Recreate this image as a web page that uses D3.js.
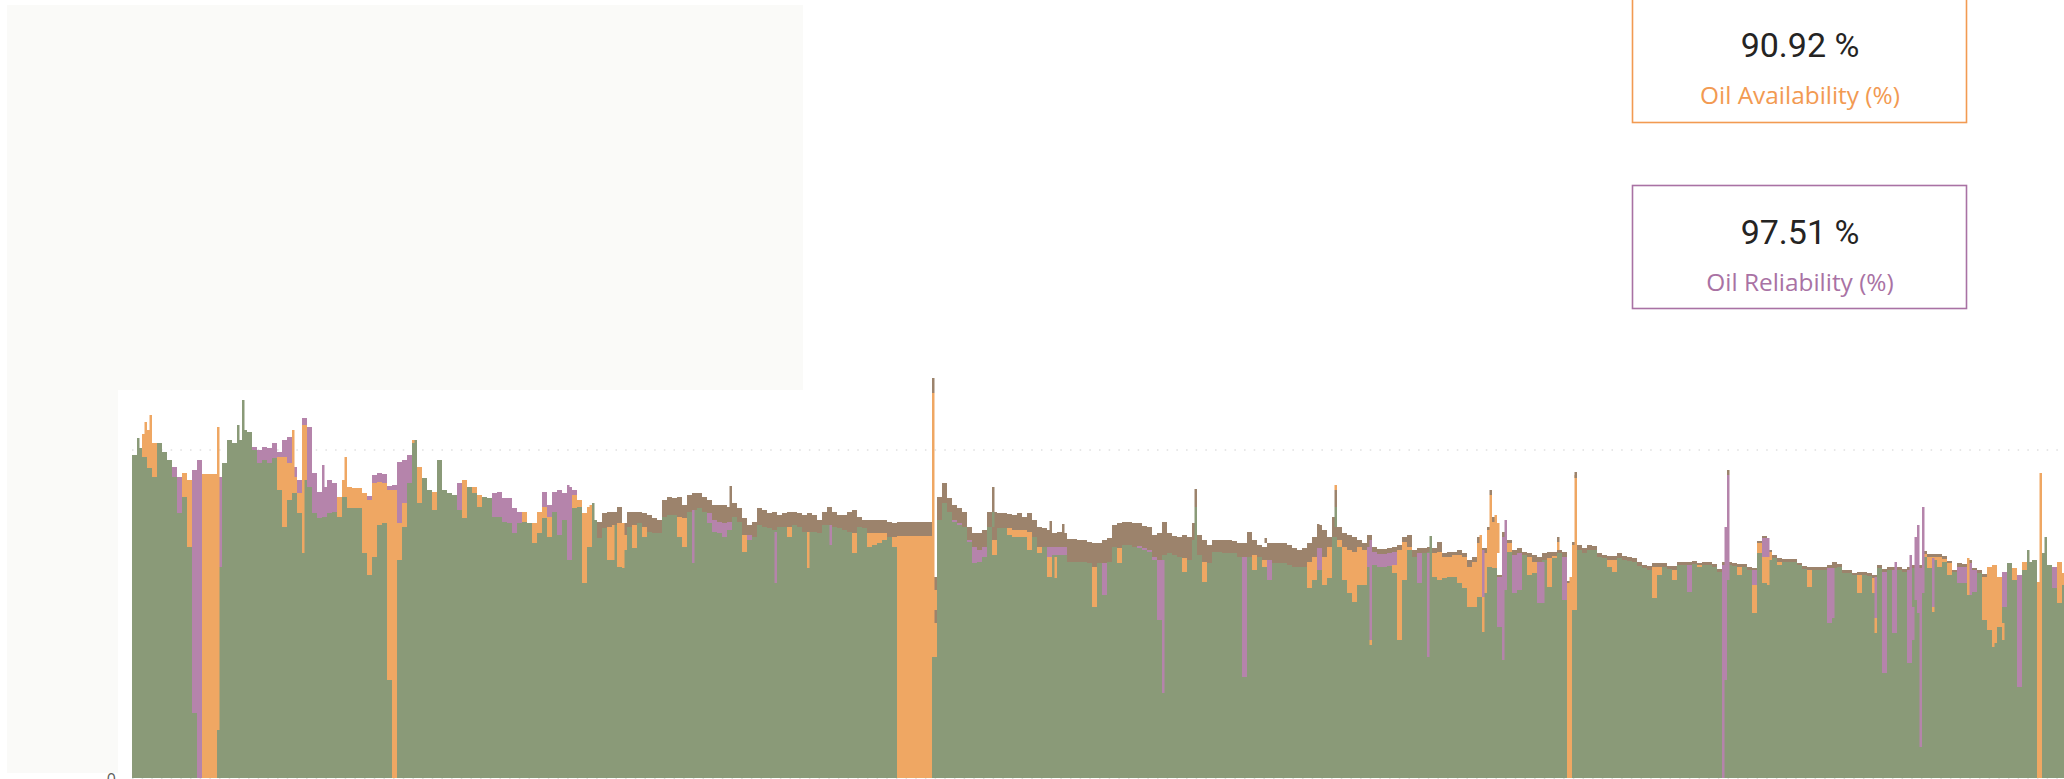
<!DOCTYPE html>
<html><head><meta charset="utf-8">
<script src="https://cdnjs.cloudflare.com/ajax/libs/d3/7.8.5/d3.min.js"></script>
<style>html,body{margin:0;padding:0;background:#fff;overflow:hidden}svg{display:block}</style>
</head><body><svg id="c" width="2064" height="779"></svg>
<script>
const greenVals=[323,330,321,310,301,335,326,318,301,265,
281,231,65,0,0,0,0,211,315,338,
335,338,348,346,328,315,318,315,320,288,
251,278,285,265,298,291,265,260,261,265,
266,261,281,270,270,270,225,203,221,253,
255,98,0,218,251,295,335,275,300,288,
268,318,288,285,283,268,260,291,285,271,
281,280,261,261,256,255,245,255,256,255,
235,245,260,241,266,243,258,218,270,271,
195,231,258,240,250,218,253,211,228,251,
230,255,241,246,245,245,261,263,263,241,
231,266,268,270,266,255,246,245,241,248,
261,256,226,238,241,253,251,250,248,251,
251,241,253,251,246,246,246,245,253,253,
251,250,248,246,225,251,250,231,233,235,
238,241,231,0,0,0,0,0,0,0,
121,258,275,266,256,253,251,236,215,216,
221,251,223,250,250,243,241,241,241,228,
241,225,231,201,223,223,223,216,216,216,216,
215,171,215,183,216,231,215,233,233,231,
230,228,226,218,158,223,225,223,221,206,
218,238,223,196,215,226,226,225,225,225,221,
101,221,208,221,211,198,215,215,215,213,
211,211,211,190,198,208,193,200,241,231,
198,185,176,193,193,211,213,211,211,212,205,
138,198,228,221,195,225,226,201,198,200,
201,201,195,190,171,171,181,185,211,210,
151,188,226,185,188,223,203,205,
175,218,191,220,225,178,0,168,228,
225,228,228,221,220,211,206,220,218,217,
216,212,210,208,180,203,211,209,198,213,
213,186,214,211,213,213,211,206,98,213,
212,203,211,208,165,225,195,218,220,213,
216,216,216,213,209,191,208,208,208,155,
210,211,205,205,203,185,203,202,185,210,
105,208,145,208,206,115,210,165,221,210,
218,211,216,203,206,195,195,183,186,205,
158,148,135,151,171,215,198,91,208,216,
218,0,225,213,190,175,193];
const orangeVals=[0,0,23,38,34,0,0,0,0,0,
24,67,0,0,304,304,304,0,0,0,
0,0,0,0,0,0,0,0,0,33,
70,37,16,20,55,0,0,0,0,0,
0,20,17,21,20,20,60,75,74,43,
40,190,288,37,24,0,3,36,0,0,
18,0,0,0,0,0,38,0,6,12,
0,0,0,0,0,0,0,0,10,0,
20,21,11,20,0,0,0,0,13,7,
70,40,0,0,0,33,0,44,15,0,
23,0,10,0,0,0,0,0,0,20,
29,0,0,0,0,0,0,0,0,0,
0,0,17,0,0,0,0,0,0,0,
0,10,0,0,0,0,0,0,0,0,
0,0,0,0,20,0,0,14,12,10,
7,0,10,242,242,242,242,242,242,242,
80,0,0,0,0,0,0,0,0,0,
0,0,15,0,0,7,7,7,7,18,
0,6,0,20,0,0,0,0,0,0,0,
0,40,0,0,0,0,15,0,0,0,
0,0,0,0,0,0,0,0,0,14,
0,0,0,20,0,0,0,0,0,0,0,
0,0,15,0,7,0,0,0,0,0,
0,0,0,26,23,0,28,31,0,7,
33,43,50,38,35,0,0,0,0,0,8,
90,38,3,0,0,0,0,24,28,21,
20,22,28,31,40,45,54,40,37,46,
0,0,9,0,0,0,18,11,
0,0,29,2,0,0,195,65,0,
0,0,0,0,0,7,12,0,0,0,
0,0,0,0,31,8,0,0,10,0,
0,0,0,2,0,0,0,0,0,0,
0,8,0,0,28,10,26,8,0,3,
0,0,0,0,0,17,0,0,0,0,
0,0,0,0,0,18,0,0,15,0,
0,0,0,0,0,0,0,0,3,11,
3,10,3,12,0,0,0,0,0,0,
43,63,78,50,0,0,12,0,8,0,
0,196,0,0,0,41,12];
const purpleVals=[0,0,0,0,0,0,0,0,10,36,
0,0,243,318,0,0,0,90,0,0,
0,0,0,0,3,13,13,15,15,5,
17,26,10,13,7,60,40,26,30,33,
29,0,0,0,0,0,0,4,8,9,
9,4,5,61,43,28,0,0,0,0,
0,0,0,0,0,27,0,0,0,0,
0,0,24,25,24,25,25,11,0,0,
0,0,15,12,20,45,27,73,5,0,
0,0,0,0,0,0,0,0,0,0,
0,0,0,0,0,0,0,0,0,0,
0,0,0,0,0,10,12,11,14,8,
0,0,0,5,0,0,0,0,0,0,
0,0,0,0,0,0,0,0,0,0,
0,0,0,0,0,0,0,0,0,0,
0,0,0,0,0,0,0,0,0,0,
0,0,0,0,2,2,0,2,16,12,
10,0,0,0,0,0,0,0,0,0,
0,0,0,10,8,8,8,0,0,0,0,
0,0,0,32,0,0,0,0,0,0,
2,2,2,3,60,0,0,0,0,0,
0,0,0,0,0,0,0,0,0,0,0,
120,0,0,0,0,20,0,0,0,0,
0,0,0,0,0,22,0,0,0,0,
0,0,0,0,0,20,13,13,13,13,13,
0,0,0,0,30,0,0,0,0,0,
0,0,0,0,0,0,0,0,0,0,
50,53,0,38,37,0,0,0,
41,0,0,0,0,43,0,0,0,
0,0,0,0,0,0,0,0,0,0,
0,0,0,0,0,0,0,0,0,0,
0,27,0,0,0,0,0,0,115,0,
0,0,0,0,15,0,19,0,0,0,
0,0,0,0,0,0,0,0,0,55,
0,0,0,0,0,0,0,0,0,0,
101,0,63,0,0,93,0,45,0,0,
0,0,0,0,0,16,16,32,22,0,
0,0,0,0,35,0,0,112,0,0,
0,0,0,0,21,0,0];
const brownVals=[0,0,0,0,0,0,0,0,0,0,
0,0,0,0,0,0,0,0,0,0,
0,0,0,0,0,0,0,0,0,0,
0,0,0,0,0,0,0,0,0,0,
0,0,0,0,0,0,0,0,0,0,
0,0,0,0,0,0,0,0,0,0,
0,0,0,0,0,0,0,0,0,0,
0,0,0,0,0,0,0,0,0,0,
0,0,0,0,0,0,0,0,0,0,
0,0,0,16,15,15,13,16,12,15,
13,11,14,17,15,13,17,18,17,20,
13,17,17,15,15,13,15,17,18,15,
14,14,17,10,15,17,17,15,18,12,
14,15,13,14,17,19,17,13,13,18,
15,13,15,20,23,10,8,13,13,13,
13,15,14,14,14,14,14,14,14,14,
0,23,20,14,15,15,15,13,14,17,
17,15,28,15,15,14,15,17,13,19,
17,20,19,17,14,15,14,23,23,22,22,
21,24,20,23,24,22,25,23,23,24,
23,22,23,22,27,33,20,19,20,23,
23,17,20,22,18,12,12,13,13,12,14,
14,25,15,12,13,17,20,20,20,20,
19,17,19,19,20,23,27,10,20,13,
14,15,15,7,7,12,5,5,5,5,5,
5,5,12,7,5,5,5,5,10,4,
5,3,5,4,7,5,6,5,3,5,
2,5,3,5,5,3,4,7,
5,7,6,4,3,5,2,3,5,
5,5,4,4,3,4,4,5,4,4,
4,4,3,4,4,4,4,3,4,3,
3,3,3,2,3,3,3,3,3,3,
3,3,3,3,2,2,2,2,3,4,
3,3,3,2,3,3,3,3,3,3,
6,3,3,3,2,3,3,3,3,3,
3,3,3,3,3,3,3,3,3,3,
3,3,3,2,2,4,3,3,2,3,
3,0,0,0,0,0,0,0,0,0,
0,0,0,0,0,0,0];
// narrow excursions drawn on a finer category band: [bin, low, high, series]
const spikeBin=[2,5,7,34,42,44,64,68,76,85,113,174,181,183,184,192,196,224,239,257,270,279,320,320,321,321,344,344,367,369,372,412,425,425,453,474,481,481,481,495,495,518,519,539,540,540,543,543,545,546,548,549,564,570,570,575,577,577,636,637,638,638,654,654,680,697,697,705,711,712,713,714,715,716,720,720,734,744,748,758,762,763,765,771];
const spikeLow=[0,330,320,48,0,0,300,225,291,281,0,218,195,231,0,218,210,215,271,195,210,233,121,385,188,155,251,266,248,200,245,85,0,271,235,241,271,288,251,138,133,121,226,221,146,181,231,283,225,225,118,188,175,228,236,0,168,300,0,145,198,303,193,221,160,160,145,145,115,138,178,165,31,185,171,166,183,131,138,0,0,68,0,175];
const spikeHigh=[340,356,363,351,353,378,348,320,313,321,338,293,260,273,275,253,255,268,292,246,246,253,385,400,201,168,266,291,257,221,254,218,271,289,240,254,288,293,271,238,138,225,242,243,181,228,283,288,263,255,201,258,216,236,241,201,303,306,198,251,303,308,221,240,210,201,160,216,223,171,241,253,198,271,220,171,220,150,155,228,196,305,241,216];
const spikeSeries=["green","orange","orange","orange","green","green","orange","orange","purple","orange","green","purple","orange","orange","green","orange","orange","purple","brown","purple","orange","purple","orange","brown","brown","brown","green","brown","brown","orange","brown","purple","green","brown","brown","brown","brown","orange","green","purple","orange","purple","green","orange","orange","purple","orange","brown","orange","orange","purple","purple","purple","orange","brown","orange","orange","brown","purple","purple","purple","brown","orange","purple","purple","purple","orange","purple","purple","purple","purple","purple","purple","purple","purple","orange","orange","orange","orange","green","orange","orange","green","orange"];
const seriesKeys=["green","orange","purple","brown"];
const seriesColors=["#8A9A78","#EFA763","#B584AB","#9C836C"];
const zeroTick=[0];
const referenceValue=[328];
const kpiValues=["90.92 %","97.51 %"];
const kpiLabels=["Oil Availability (%)","Oil Reliability (%)"];
const kpiColors=["#F29A52","#A972A4"];

const svg=d3.select("#c");
svg.append("path").attr("d","M7 5H803V390H118V773H7Z").attr("fill","#FAFAF8");

const defs=svg.append("defs");
defs.append("filter").attr("id","soft").attr("filterUnits","userSpaceOnUse")
  .attr("x",120).attr("y",360).attr("width",1960).attr("height",440)
  .append("feGaussianBlur").attr("stdDeviation",0.5);

const idx=d3.range(greenVals.length);
const x=d3.scaleBand().domain(idx).range([132,132+5*idx.length]);
const fine=d3.scaleBand().domain(d3.range(idx.length*2)).range([132,132+5*idx.length]);
const y=d3.scaleLinear().domain([0,400]).range([778,378]);
const color=d3.scaleOrdinal(seriesKeys,seriesColors);

const rows=idx.map(i=>({green:greenVals[i],orange:orangeVals[i],purple:purpleVals[i],brown:brownVals[i]}));
const stacked=d3.stack().keys(seriesKeys)(rows);

const axis=d3.axisLeft(y).tickValues(zeroTick).tickSize(0).tickPadding(16);
const gA=svg.append("g").attr("transform","translate(132,1)").call(axis);
gA.select(".domain").remove();
gA.selectAll("text").attr("font-family","'Open Sans',sans-serif").attr("font-size",16).attr("fill","#605E5C");

svg.append("line").attr("x1",132).attr("x2",2064).attr("y1",y(0)).attr("y2",y(0))
  .attr("stroke","#C8C8C8").attr("stroke-width",1).attr("stroke-dasharray","1.5 8.17");
svg.selectAll(".ref").data(referenceValue).join("line").attr("class","ref")
  .attr("x1",132).attr("x2",2064).attr("y1",d=>y(d)).attr("y2",d=>y(d))
  .attr("stroke","#CFCFCF").attr("stroke-width",1.2).attr("stroke-dasharray","1.5 8.17");

const marks=svg.append("g").attr("filter","url(#soft)");
marks.append("g").selectAll("g").data(stacked).join("g").attr("fill",d=>color(d.key))
 .selectAll("rect").data(d=>d.map((v,i)=>({i,v})).filter(o=>o.v[1]>o.v[0])).join("rect")
 .attr("x",d=>x(d.i)).attr("width",x.bandwidth())
 .attr("y",d=>y(d.v[1])).attr("height",d=>y(d.v[0])-y(d.v[1]));

marks.append("g").selectAll("rect").data(spikeBin.map((b,k)=>k)).join("rect")
 .attr("x",k=>fine(spikeBin[k])).attr("width",fine.bandwidth())
 .attr("y",k=>y(spikeHigh[k])).attr("height",k=>y(spikeLow[k])-y(spikeHigh[k]))
 .attr("fill",k=>color(spikeSeries[k]));

const cardY=d3.scalePoint().domain([0,1]).range([57,244]);
kpiValues.forEach((v,i)=>{
  const base=cardY(i);
  svg.append("rect").attr("x",1632.5).attr("y",i?185.5:-20).attr("width",334).attr("height",i?123:142.5)
    .attr("fill","#fff").attr("stroke",kpiColors[i]).attr("stroke-width",1.6);
  svg.append("text").attr("x",1800).attr("y",base).attr("text-anchor","middle")
    .attr("font-family","Roboto,sans-serif").attr("font-size",34).attr("fill","#252423").text(v);
  svg.append("text").attr("x",1800).attr("y",base+47).attr("text-anchor","middle")
    .attr("font-family","'Open Sans',sans-serif").attr("font-size",24.4).attr("fill",kpiColors[i]).text(kpiLabels[i]);
});
</script></body></html>
